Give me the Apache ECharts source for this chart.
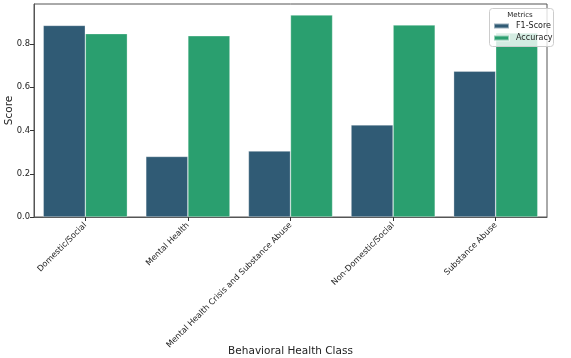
<!DOCTYPE html>
<html>
<head>
<meta charset="utf-8">
<script src="https://cdn.jsdelivr.net/npm/echarts@6/dist/echarts.min.js"></script>
<style>
  html, body { margin: 0; padding: 0; background: #fff; }
  #main { width: 571px; height: 358px; }
</style>
</head>
<body>
<div id="main"></div>
<script>
// data
var classes = ['Domestic/Social', 'Mental Health', 'Mental Health Crisis and Substance Abuse', 'Non-Domestic/Social', 'Substance Abuse'];
var f1Score = [0.886, 0.280, 0.305, 0.426, 0.674];
var accuracy = [0.848, 0.838, 0.934, 0.888, 0.851];
var yTicks = [0, 0.2, 0.4, 0.6, 0.8];

var font = 'DejaVu Sans';
var myChart = echarts.init(document.getElementById('main'));

var option = {
  animation: false,
  textStyle: { fontFamily: font },
  grid: {
    left: 34, right: 24, top: 4, bottom: 141,
    outerBoundsMode: 'none',
    containLabel: false,
    show: true, borderColor: '#555', borderWidth: 1, backgroundColor: 'transparent'
  },
  legend: {
    data: ['F1-Score', 'Accuracy'],
    orient: 'vertical',
    left: 493, top: 22,
    padding: 0,
    itemGap: 4, itemWidth: 15, itemHeight: 5,
    icon: 'rect',
    z: 5,
    textStyle: { fontFamily: font, fontSize: 8, color: '#222', padding: [0, 0, 0, 2] }
  },
  graphic: [
    {
      type: 'rect', z: 4,
      shape: { x: 489.5, y: 8.5, width: 64, height: 38, r: 3 },
      style: { fill: 'rgba(255,255,255,0.8)', stroke: '#ccc', lineWidth: 1 }
    },
    {
      type: 'text', z: 5,
      style: { x: 520, y: 15, text: 'Metrics', fill: '#222', font: '7px ' + font, textAlign: 'center', textVerticalAlign: 'middle' }
    }
  ],
  xAxis: {
    type: 'category',
    data: classes,
    name: 'Behavioral Health Class',
    nameLocation: 'middle',
    nameMoveOverlap: false,
    nameGap: 129,
    nameTextStyle: { fontFamily: font, fontSize: 10.5, color: '#222' },
    axisLine: { show: true, lineStyle: { color: '#555' } },
    axisTick: { show: true, alignWithLabel: true, length: 4, lineStyle: { color: '#333' } },
    axisLabel: { rotate: 45, interval: 0, margin: 7, fontSize: 8.2, color: '#222', fontFamily: font }
  },
  yAxis: {
    type: 'value',
    min: 0, max: 0.985, interval: 0.2,
    name: 'Score',
    nameLocation: 'middle',
    nameMoveOverlap: false,
    nameGap: 19,
    nameTextStyle: { fontFamily: font, fontSize: 10.5, color: '#222' },
    axisLine: { show: true, lineStyle: { color: '#555' } },
    axisTick: { show: true, length: 4, lineStyle: { color: '#333' } },
    splitLine: { show: false },
    axisLabel: {
      fontSize: 8.4, color: '#222', margin: 4, showMaxLabel: false,
      formatter: function (v) {
        return yTicks.indexOf(Math.round(v * 10) / 10) >= 0 ? v.toFixed(1) : '';
      }
    }
  },
  series: [
    {
      name: 'F1-Score', type: 'bar', data: f1Score,
      barGap: 0, barCategoryGap: '18%',
      itemStyle: { color: '#305b75', borderColor: 'rgba(255,255,255,0.5)', borderWidth: 0.6 }
    },
    {
      name: 'Accuracy', type: 'bar', data: accuracy,
      barGap: 0, barCategoryGap: '18%',
      itemStyle: { color: '#2a9f6f', borderColor: 'rgba(255,255,255,0.5)', borderWidth: 0.6 }
    }
  ]
};

myChart.setOption(option);
</script>
</body>
</html>
